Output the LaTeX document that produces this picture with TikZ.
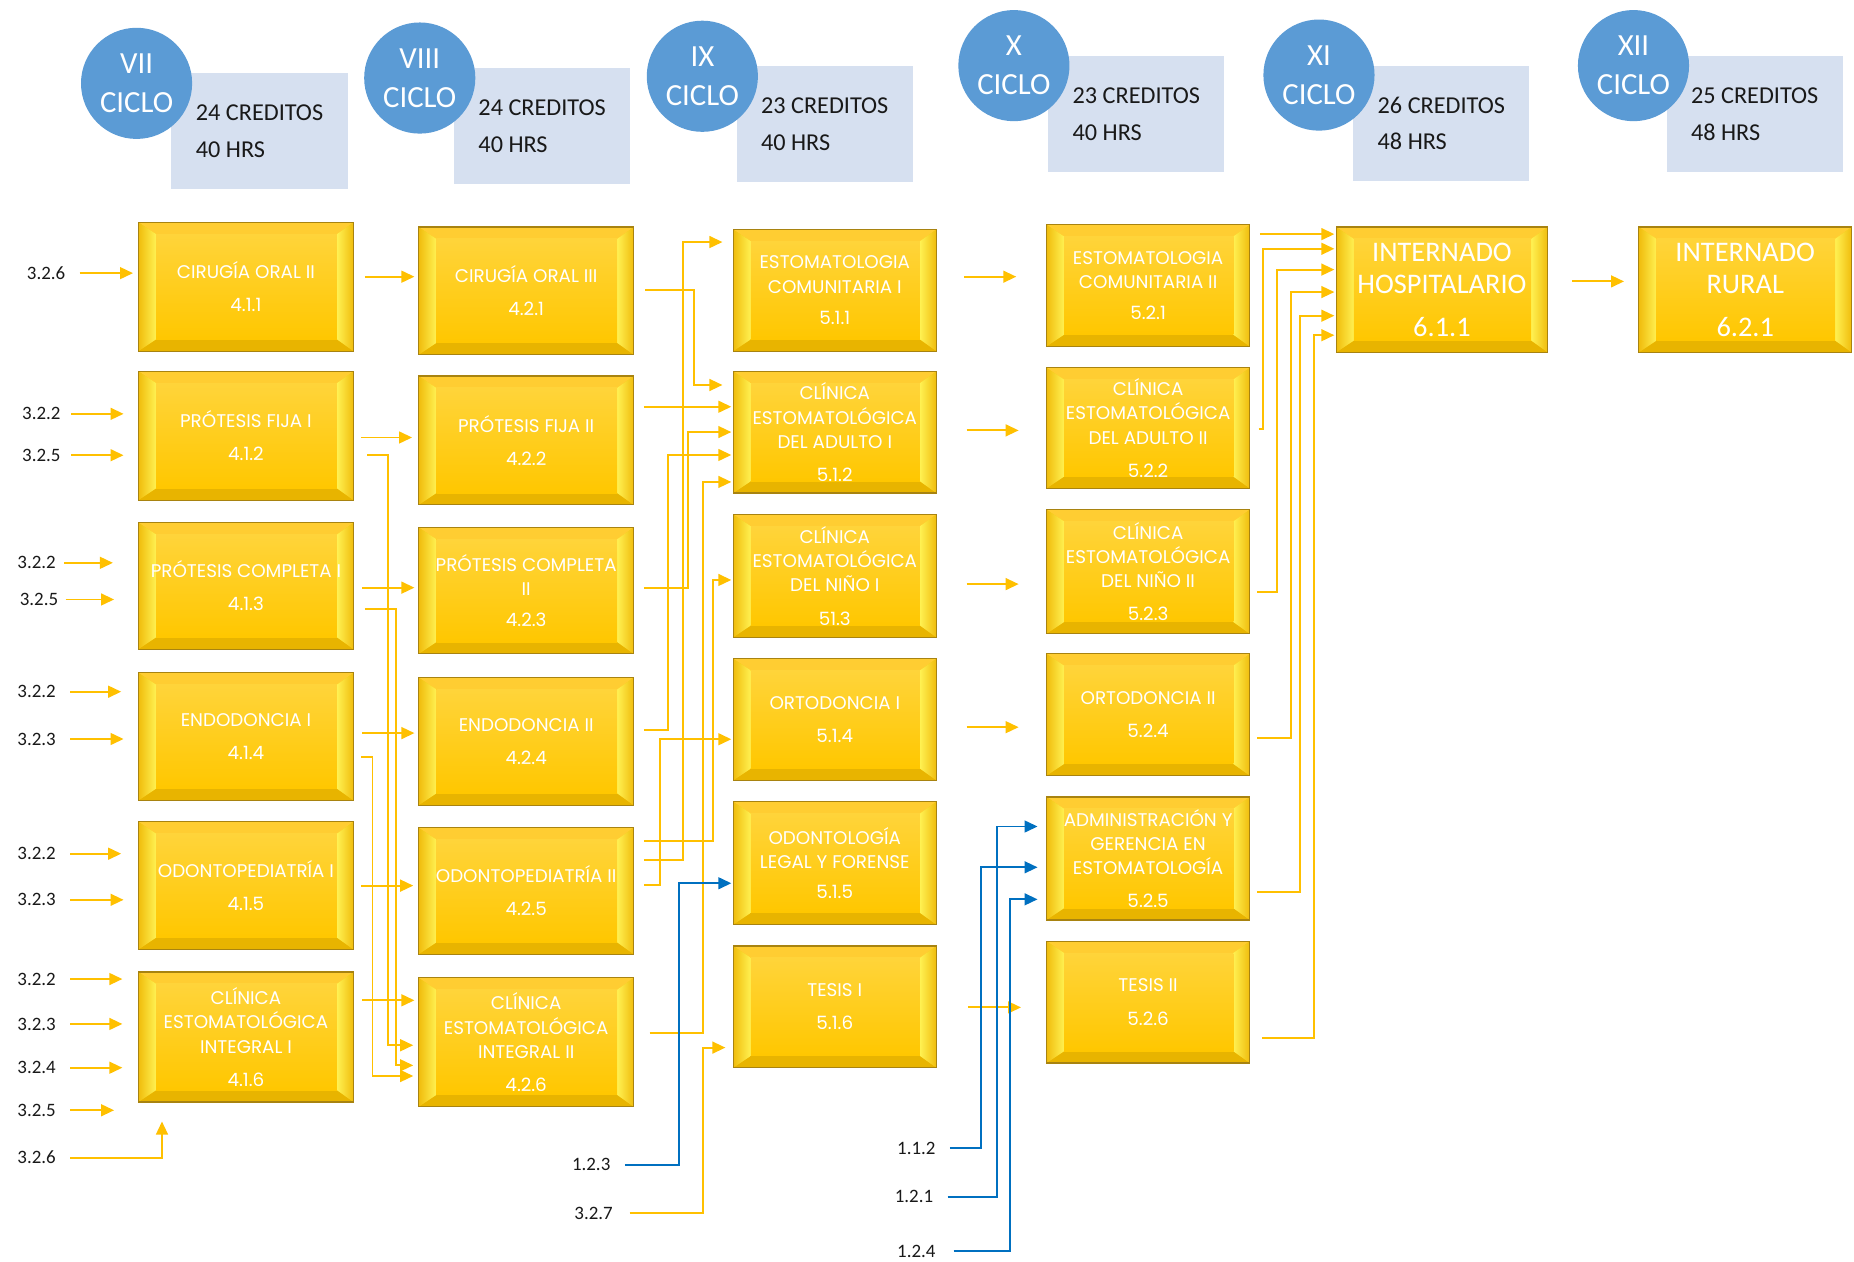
\documentclass[tikz,border=0pt]{standalone}
\usepackage{fontspec}
\setmainfont{Carlito}
\newfontfamily\boxfont{Poppins}
\usetikzlibrary{arrows.meta,calc}
\definecolor{cblue}{HTML}{5B9BD5}
\definecolor{rblue}{HTML}{D6E0F0}
\definecolor{agold}{HTML}{FFC000}
\definecolor{ablue}{HTML}{0070C0}
\definecolor{ybord}{HTML}{A88310}
\definecolor{ytopc}{HTML}{FFCD32}
\definecolor{ybotc}{HTML}{E8B400}
\definecolor{yedge}{HTML}{F0BC0C}
\definecolor{yhigh}{HTML}{FFF152}
\definecolor{ycentop}{HTML}{FFD43A}
\definecolor{ycenbot}{HTML}{FFC700}
\tikzset{
  yarr/.style={draw=agold, line width=1.6pt, -{Triangle[length=11pt,width=10pt]}},
  barr/.style={draw=ablue, line width=1.6pt, -{Triangle[length=11pt,width=10pt]}},
  bevel/.style={path picture={
    \coordinate (pp1) at (path picture bounding box.north west);
    \coordinate (pp2) at (path picture bounding box.north east);
    \coordinate (pp3) at (path picture bounding box.south east);
    \coordinate (pp4) at (path picture bounding box.south west);
    \coordinate (pq1) at ($(pp1)+(15pt,-10pt)$);
    \coordinate (pq2) at ($(pp2)+(-14pt,-10pt)$);
    \coordinate (pq3) at ($(pp3)+(-14pt,10pt)$);
    \coordinate (pq4) at ($(pp4)+(15pt,10pt)$);
    \fill[ycenbot] (pp1) rectangle (pp3);
    \fill[ytopc] (pp1) -- (pp2) -- (pq2) -- (pq1) -- cycle;
    \fill[ybotc] (pp4) -- (pp3) -- (pq3) -- (pq4) -- cycle;
    \begin{scope}
      \clip (pp1) -- (pq1) -- (pq4) -- (pp4) -- cycle;
      \shade[left color=yedge, right color=yhigh] (pp4) rectangle (pq4 |- pp1);
    \end{scope}
    \begin{scope}
      \clip (pp2) -- (pq2) -- (pq3) -- (pp3) -- cycle;
      \shade[left color=yhigh, right color=yedge] (pq3 |- pp3) rectangle (pp2);
    \end{scope}
    \shade[top color=ycentop, bottom color=ycenbot] (pq1) rectangle (pq3);
  }},
  ybox/.style 2 args={rectangle, bevel, draw=ybord, line width=1pt,
    minimum width=#1, minimum height=#2, inner sep=0pt, text=white, align=center,
    font=\boxfont\fontsize{15.5}{20.5}\selectfont},
  ibox/.style={rectangle, bevel, draw=ybord, line width=1pt,
    minimum width=180pt, minimum height=106pt, inner sep=0pt, text=white, align=center,
    font=\fontsize{24}{27}\selectfont},
  hcirc/.style={circle, fill=cblue, minimum size=94pt, inner sep=0pt, text=white,
    align=center, font=\fontsize{26}{33}\selectfont},
  hrect/.style={rectangle, fill=rblue, minimum width=149pt, minimum height=98pt,
    inner sep=0pt, align=left, text=black!90, font=\fontsize{20.5}{31}\selectfont},
  lab/.style={inner sep=0pt, text=black!90, font=\fontsize{16}{16}\selectfont},
}
\begin{document}
\begin{tikzpicture}[x=1pt,y=-1pt]
\useasboundingbox[fill=white] (0,0) rectangle (1568,1067.3);
% ---------- header ----------
\node[hrect] (r7) at (219.5,111) {24 CREDITOS\\40 HRS};
\node[hcirc] (c7) at (115.5,70.5) {VII\\CICLO};
\node[hrect] (r8) at (458.5,106.5) {24 CREDITOS\\40 HRS};
\node[hcirc] (c8) at (355,66) {VIII\\CICLO};
\node[hrect] (r9) at (697.5,105) {23 CREDITOS\\40 HRS};
\node[hcirc] (c9) at (594,64.5) {IX\\CICLO};
\node[hrect] (r10) at (961,96.5) {23 CREDITOS\\40 HRS};
\node[hcirc] (c10) at (857.5,55.5) {X\\CICLO};
\node[hrect] (r11) at (1219,104.5) {26 CREDITOS\\48 HRS};
\node[hcirc] (c11) at (1115.5,63.5) {XI\\CICLO};
\node[hrect] (r12) at (1484,96.5) {25 CREDITOS\\48 HRS};
\node[hcirc] (c12) at (1381.5,55.5) {XII\\CICLO};
% ---------- column 1 ----------
\node[ybox={182pt}{109pt}] (b411) at (208,242.5) {CIRUGÍA ORAL II\\[7.5pt]4.1.1};
\node[ybox={182pt}{109pt}] (b412) at (208,368.5) {PRÓTESIS FIJA I\\[7.5pt]4.1.2};
\node[ybox={182pt}{107pt}] (b413) at (208,495.5) {PRÓTESIS COMPLETA I\\[7.5pt]4.1.3};
\node[ybox={182pt}{108pt}] (b414) at (208,623) {ENDODONCIA I\\[7.5pt]4.1.4};
\node[ybox={182pt}{108pt}] (b415) at (208,749) {ODONTOPEDIATRÍA I\\[7.5pt]4.1.5};
\node[ybox={182pt}{110pt}] (b416) at (208,877) {CLÍNICA\\ESTOMATOLÓGICA\\INTEGRAL I\\[7.5pt]4.1.6};
% ---------- column 2 ----------
\node[ybox={182pt}{108pt}] (b421) at (445,246) {CIRUGÍA ORAL III\\[7.5pt]4.2.1};
\node[ybox={182pt}{109pt}] (b422) at (445,372.5) {PRÓTESIS FIJA II\\[7.5pt]4.2.2};
\node[ybox={182pt}{107pt}] (b423) at (445,499.5) {PRÓTESIS COMPLETA\\II\\[6pt]4.2.3};
\node[ybox={182pt}{108pt}] (b424) at (445,627) {ENDODONCIA II\\[7.5pt]4.2.4};
\node[ybox={182pt}{107pt}] (b425) at (445,753.5) {ODONTOPEDIATRÍA II\\[7.5pt]4.2.5};
\node[ybox={182pt}{109pt}] (b426) at (445,881.5) {CLÍNICA\\ESTOMATOLÓGICA\\INTEGRAL II\\[7.5pt]4.2.6};
% ---------- column 3 ----------
\node[ybox={172pt}{103pt}] (b511) at (706,245.5) {ESTOMATOLOGIA\\COMUNITARIA I\\[6pt]5.1.1};
\node[ybox={172pt}{103pt}] (b512) at (706,365.5) {CLÍNICA\\ESTOMATOLÓGICA\\DEL ADULTO I\\[7.5pt]5.1.2};
\node[ybox={172pt}{104pt}] (b513) at (706,487) {CLÍNICA\\ESTOMATOLÓGICA\\DEL NIÑO I\\[7.5pt]51.3};
\node[ybox={172pt}{103pt}] (b514) at (706,608.5) {ORTODONCIA I\\[7.5pt]5.1.4};
\node[ybox={172pt}{104pt}] (b515) at (706,730) {ODONTOLOGÍA\\LEGAL Y FORENSE\\[5pt]5.1.5};
\node[ybox={172pt}{103pt}] (b516) at (706,851.5) {TESIS I\\[7.5pt]5.1.6};
% ---------- column 4 ----------
\node[ybox={172pt}{103pt}] (b521) at (971,241.5) {ESTOMATOLOGIA\\COMUNITARIA II\\[6pt]5.2.1};
\node[ybox={172pt}{102pt}] (b522) at (971,362) {CLÍNICA\\ESTOMATOLÓGICA\\DEL ADULTO II\\[7.5pt]5.2.2};
\node[ybox={172pt}{105pt}] (b523) at (971,483.5) {CLÍNICA\\ESTOMATOLÓGICA\\DEL NIÑO II\\[7.5pt]5.2.3};
\node[ybox={172pt}{103pt}] (b524) at (971,604.5) {ORTODONCIA II\\[7.5pt]5.2.4};
\node[ybox={172pt}{104pt}] (b525) at (971,726) {ADMINISTRACIÓN Y\\GERENCIA EN\\ESTOMATOLOGÍA\\[7.5pt]5.2.5};
\node[ybox={172pt}{103pt}] (b526) at (971,847.5) {TESIS II\\[7.5pt]5.2.6};
% ---------- columns 5, 6 ----------
\node[ibox, minimum width=179pt] (b611) at (1219.5,245) {INTERNADO\\HOSPITALARIO\\[9pt]6.1.1};
\node[ibox] (b621) at (1476,245) {INTERNADO\\RURAL\\[9pt]6.2.1};
% ---------- input labels ----------
\node[lab] (i1) at (39,231) {3.2.6};
\node[lab] (i2) at (35,350) {3.2.2};
\node[lab] (i3) at (35,385) {3.2.5};
\node[lab] (i4) at (31,476) {3.2.2};
\node[lab] (i5) at (33,507) {3.2.5};
\node[lab] (i6) at (31,585) {3.2.2};
\node[lab] (i7) at (31,625) {3.2.3};
\node[lab] (i8) at (31,722) {3.2.2};
\node[lab] (i9) at (31,761) {3.2.3};
\node[lab] (i10) at (31,828) {3.2.2};
\node[lab] (i11) at (31,866) {3.2.3};
\node[lab] (i12) at (31,903) {3.2.4};
\node[lab] (i13) at (31,939) {3.2.5};
\node[lab] (i14) at (31,979) {3.2.6};
\node[lab] (l123) at (500,985) {1.2.3};
\node[lab] (l327) at (502,1026) {3.2.7};
\node[lab] (l112) at (775,971) {1.1.2};
\node[lab] (l121) at (773,1012) {1.2.1};
\node[lab] (l124) at (775,1058) {1.2.4};
% ---------- inputs to column 1 ----------
\draw[yarr, shorten <=12pt, shorten >=4pt] (i1.east) -- (b411.west |- i1.east);
\draw[yarr, shorten <=9pt, shorten >=12pt] (i2.east) -- (b412.west |- i2.east);
\draw[yarr, shorten <=9pt, shorten >=12pt] (i3.east) -- (b412.west |- i3.east);
\draw[yarr, shorten <=7pt, shorten >=21pt] (i4.east) -- (b413.west |- i4.east);
\draw[yarr, shorten <=6pt, shorten >=20pt] (i5.east) -- (b413.west |- i5.east);
\draw[yarr, shorten <=12pt, shorten >=14pt] (i6.east) -- (b414.west |- i6.east);
\draw[yarr, shorten <=12pt, shorten >=12pt] (i7.east) -- (b414.west |- i7.east);
\draw[yarr, shorten <=12pt, shorten >=14pt] (i8.east) -- (b415.west |- i8.east);
\draw[yarr, shorten <=12pt, shorten >=12pt] (i9.east) -- (b415.west |- i9.east);
\draw[yarr, shorten <=12pt, shorten >=13pt] (i10.east) -- (b416.west |- i10.east);
\draw[yarr, shorten <=12pt, shorten >=13pt] (i11.east) -- (b416.west |- i11.east);
\draw[yarr, shorten <=12pt, shorten >=13pt] (i12.east) -- (b416.west |- i12.east);
\draw[yarr, shorten <=12pt, shorten >=20pt] (i13.east) -- (b416.west |- i13.east);
\draw[yarr, shorten <=12pt, shorten >=16pt] (i14.east) -| (b416.south -| 137,0);
% ---------- column 1 -> column 2 ----------
\draw[yarr, shorten <=9pt, shorten >=3pt] (b411.east |- 0,234) -- (b421.west |- 0,234);
\draw[yarr, shorten <=6pt, shorten >=5pt] (b412.east |- 0,370) -- (b422.west |- 0,370);
\draw[yarr, shorten <=11pt, shorten >=4pt] (b412.east |- 0,385) -| (328,884) -- (b426.west |- 0,884);
\draw[yarr, shorten <=7pt, shorten >=3pt] (b413.east |- 0,497) -- (b423.west |- 0,497);
\draw[yarr, shorten <=9pt, shorten >=4pt] (b413.east |- 0,515) -| (335,901) -- (b426.west |- 0,901);
\draw[yarr, shorten <=7pt, shorten >=3pt] (b414.east |- 0,620) -- (b424.west |- 0,620);
\draw[yarr, shorten <=6pt, shorten >=4pt] (b414.east |- 0,640) -| (315,910) -- (b426.west |- 0,910);
\draw[yarr, shorten <=6pt, shorten >=4pt] (b415.east |- 0,749) -- (b425.west |- 0,749);
\draw[yarr, shorten <=7pt, shorten >=3pt] (b416.east |- 0,846) -- (b426.west |- 0,846);
% ---------- column 2 -> column 3 ----------
\draw[yarr, shorten <=9pt, shorten >=8.5pt] (b421.east |- 0,245.3) -| (587,325.6) -- (b512.west |- 0,325.6);
\draw[yarr, shorten <=8pt, shorten >=1pt] (b422.east |- 0,344) -- (b512.west |- 0,344);
\draw[yarr, shorten <=8pt, shorten >=1pt] (b423.east |- 0,497.3) -| (582,365.4) -- (b512.west |- 0,365.4);
\draw[yarr, shorten <=8pt, shorten >=1pt] (b424.east |- 0,617.7) -| (565,384.8) -- (b512.west |- 0,384.8);
\draw[yarr, shorten <=13pt, shorten >=1pt] (b426.east |- 0,874) -| (594.8,407.6) -- (b512.west |- 0,407.6);
\draw[yarr, shorten <=8pt, shorten >=1pt] (b425.east |- 0,711) -| (603,490.5) -- (b513.west |- 0,490.5);
\draw[yarr, shorten <=8pt, shorten >=8.5pt] (b425.east |- 0,727.4) -| (577.5,204.7) -- (b511.west |- 0,204.7);
\draw[yarr, shorten <=8pt, shorten >=1pt] (b425.east |- 0,748.7) -| (558.2,625.2) -- (b514.west |- 0,625.2);
\draw[barr, shorten <=12pt, shorten >=1pt] (l123.east) -| (574.2,747) -- (b515.west |- 0,747);
\draw[yarr, shorten <=14pt, shorten >=6pt] (l327.east) -| (594.8,886) -- (b516.west |- 0,886);
% ---------- column 3 -> column 4 ----------
\draw[yarr, shorten <=23pt, shorten >=25pt] (b511.east |- 0,234) -- (b521.west |- 0,234);
\draw[yarr, shorten <=25pt, shorten >=23pt] (b512.east |- 0,364) -- (b522.west |- 0,364);
\draw[yarr, shorten <=25pt, shorten >=23pt] (b513.east |- 0,494) -- (b523.west |- 0,494);
\draw[yarr, shorten <=25pt, shorten >=23pt] (b514.east |- 0,615) -- (b524.west |- 0,615);
\draw[yarr, shorten <=26pt, shorten >=21pt] (b516.east |- 0,852) -- (b526.west |- 0,852);
\draw[barr, shorten <=12pt, shorten >=7pt] (l112.east) -| (830,733.5) -- (b525.west |- 0,733.5);
\draw[barr, shorten <=12pt, shorten >=7pt] (l121.east) -| (843,699) -- (b525.west |- 0,699);
\draw[barr, shorten <=15pt, shorten >=7pt] (l124.east) -| (854,760.6) -- (b525.west |- 0,760.6);
% ---------- column 4 -> 6.1.1 ----------
\draw[yarr, shorten <=8pt, shorten >=1pt] (b521.east |- 0,198) -- (b611.west |- 0,198);
\draw[yarr, shorten <=7pt, shorten >=1pt] (b522.east |- 0,363) -| (1068.5,210.4) -- (b611.west |- 0,210.4);
\draw[yarr, shorten <=6pt, shorten >=1pt] (b523.east |- 0,500.7) -| (1080.3,228) -- (b611.west |- 0,228);
\draw[yarr, shorten <=6pt, shorten >=1pt] (b524.east |- 0,624) -| (1091.6,247) -- (b611.west |- 0,247);
\draw[yarr, shorten <=6pt, shorten >=1pt] (b525.east |- 0,754.5) -| (1099.5,267) -- (b611.west |- 0,267);
\draw[yarr, shorten <=10pt, shorten >=1pt] (b526.east |- 0,878) -| (1111.3,283.5) -- (b611.west |- 0,283.5);
% ---------- 6.1.1 -> 6.2.1 ----------
\draw[yarr, shorten <=20pt, shorten >=12pt] (b611.east |- 0,238) -- (b621.west |- 0,238);
\end{tikzpicture}
\end{document}
